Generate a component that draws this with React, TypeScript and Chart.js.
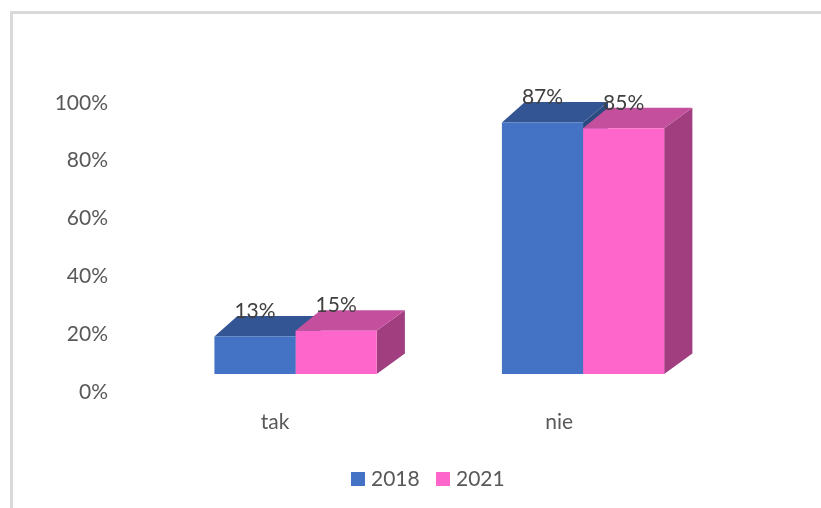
import React, { useEffect, useRef } from "react";
import { Chart, registerables } from "chart.js";

Chart.register(...registerables);

const categories = ["tak", "nie"];
const seriesNames = ["2018", "2021"];
const values2018 = [13, 87];
const values2021 = [15, 85];
const yTicks = [0, 20, 40, 60, 80, 100];

const FRONT = ["#4472C4", "#FF66CC"];
const TOP = ["#335593", "#C44F9D"];
const SIDE = ["#2A4A80", "#A03E80"];
const FONT = { family: "Lato, Carlito, 'Open Sans', sans-serif", size: 21 };
const FONT_CSS = `${FONT.size}px ${FONT.family}`;

const SHIFT_X = 19.8;
const SHIFT_Y = -17.8;
const DEPTH_Y = 20.5;
const DEPTH_LEFT = [23, 25];
const DEPTH_RIGHT = [25, 28.2];
const LABEL_NUDGE = [-0.7, -4];

const poly = (ctx: CanvasRenderingContext2D, color: string, pts: number[][]) => {
  ctx.fillStyle = color;
  ctx.beginPath();
  pts.forEach(([x, y], i) => (i ? ctx.lineTo(x, y) : ctx.moveTo(x, y)));
  ctx.closePath();
  ctx.fill();
};

const bars3d = {
  id: "bars3d",
  beforeDatasetsDraw(chart: any) {
    const ctx: CanvasRenderingContext2D = chart.ctx;
    ctx.save();
    ctx.translate(SHIFT_X, SHIFT_Y);
    chart.data.datasets.forEach((_: any, d: number) => {
      chart.getDatasetMeta(d).data.forEach((bar: any) => {
        const p = bar.getProps(["x", "y", "base", "width"], true);
        const l = p.x - p.width / 2;
        const r = p.x + p.width / 2;
        const dl = DEPTH_LEFT[d];
        const dr = DEPTH_RIGHT[d];
        poly(ctx, SIDE[d], [
          [r, p.y],
          [r + dr, p.y - DEPTH_Y],
          [r + dr, p.base - DEPTH_Y],
          [r, p.base],
        ]);
        poly(ctx, TOP[d], [
          [l, p.y],
          [l + dl, p.y - DEPTH_Y],
          [r + dr, p.y - DEPTH_Y],
          [r, p.y],
        ]);
      });
    });
  },
  afterDatasetsDraw(chart: any) {
    const ctx: CanvasRenderingContext2D = chart.ctx;
    ctx.restore();
    ctx.save();
    ctx.font = FONT_CSS;
    ctx.fillStyle = "#404040";
    ctx.textAlign = "center";
    ctx.textBaseline = "middle";
    chart.data.datasets.forEach((ds: any, d: number) => {
      chart.getDatasetMeta(d).data.forEach((bar: any, i: number) => {
        const p = bar.getProps(["x", "y"], true);
        ctx.fillText(`${ds.data[i]}%`, p.x + SHIFT_X, p.y + SHIFT_Y - 25.5);
      });
    });
    ctx.restore();
  },
};

const legend3d = {
  id: "legend3d",
  afterDraw(chart: any) {
    const ctx: CanvasRenderingContext2D = chart.ctx;
    ctx.save();
    ctx.font = FONT_CSS;
    ctx.textBaseline = "middle";
    ctx.textAlign = "left";
    chart.data.datasets.forEach((ds: any, d: number) => {
      const x = 351 + d * 85;
      ctx.fillStyle = FRONT[d];
      ctx.fillRect(x, 472, 14, 14);
      ctx.fillStyle = "#595959";
      ctx.fillText(ds.label, x + 20, 479);
    });
    ctx.restore();
  },
};

export default function App() {
  const ref = useRef<HTMLCanvasElement>(null);
  useEffect(() => {
    const chart = new Chart(ref.current!, {
      type: "bar",
      data: {
        labels: categories,
        datasets: [
          { label: seriesNames[0], data: values2018, backgroundColor: FRONT[0] },
          { label: seriesNames[1], data: values2021, backgroundColor: FRONT[1] },
        ],
      },
      plugins: [bars3d, legend3d],
      options: {
        responsive: false,
        animation: false,
        layout: { padding: { left: 0, right: 114, top: 102.8, bottom: 0 } },
        plugins: { legend: { display: false }, tooltip: { enabled: false } },
        datasets: { bar: { categoryPercentage: 0.571, barPercentage: 1, clip: false } },
        scales: {
          x: {
            grid: { display: false, drawTicks: false },
            border: { display: false },
            ticks: { font: FONT, color: "#595959", padding: 18, maxRotation: 0 },
            afterFit: (s: any) => {
              s.height = 116.2;
              const base = Object.getPrototypeOf(s).getPixelForTick;
              s.getPixelForTick = function (i: number) {
                return base.call(this, i) + LABEL_NUDGE[i];
              };
            },
          },
          y: {
            min: 0,
            max: 100,
            grid: { display: false, drawTicks: false },
            border: { display: false },
            afterBuildTicks: (s: any) => { s.ticks = yTicks.map((value) => ({ value })); },
            ticks: { font: FONT, color: "#595959", padding: 24, callback: (v: any) => `${v}%` },
            afterFit: (s: any) => { s.width = 132; },
          },
        },
      },
    } as any);
    return () => chart.destroy();
  }, []);
  return (
    <div style={{ position: "fixed", inset: 0, background: "#fff", overflow: "hidden" }}>
      <div style={{ position: "absolute", left: 10, top: 11, right: 0, bottom: 0, borderLeft: "3px solid #D9D9D9", borderTop: "3px solid #D9D9D9" }} />
      <canvas ref={ref} width={821} height={508} style={{ position: "absolute", left: 0, top: 0, display: "block" }} />
    </div>
  );
}
